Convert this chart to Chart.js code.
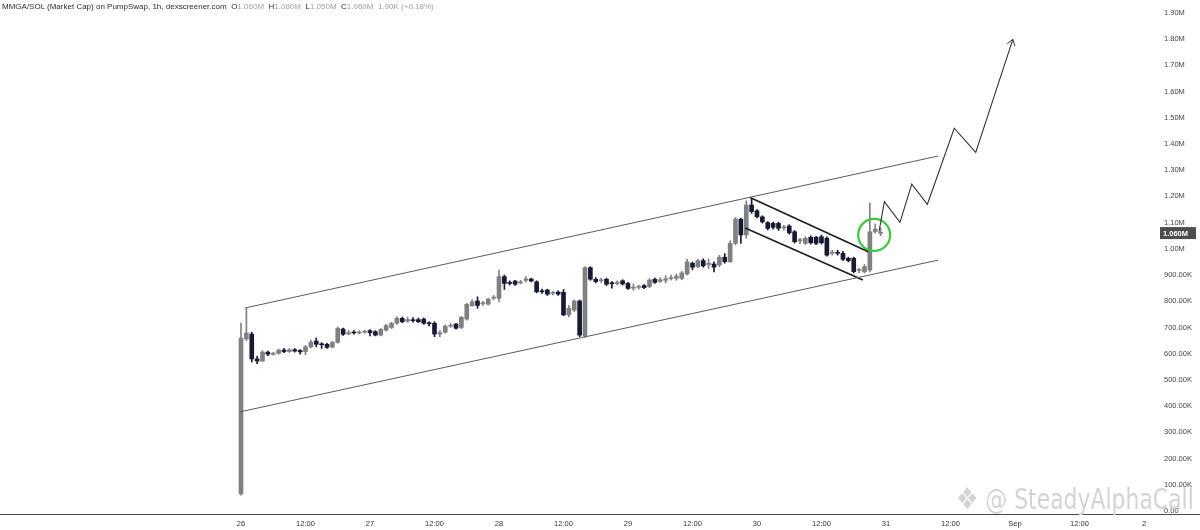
<!DOCTYPE html>
<html lang="en">
  <head>
    <meta charset="UTF-8" />
    <title>MMGA/SOL Market Cap</title>
    <script src="https://cdn.jsdelivr.net/npm/chart.js"></script>
    <style>
      body {
        margin: 0;
        background: #fff;
        font-family: "Liberation Sans", Arial, sans-serif;
      }
      #wrap {
        position: relative;
        width: 1200px;
        height: 530px;
        overflow: hidden;
      }
      canvas {
        display: block;
      }
      .header {
        position: absolute;
        left: 2px;
        top: 2px;
        font-size: 8px;
        color: #2e2e2e;
        white-space: nowrap;
      }
      .header .v {
        color: #a0a0a0;
      }
      .watermark {
        position: absolute;
        left: 956px;
        top: 481px;
        font-family: "Liberation Sans Narrow", "DejaVu Sans Condensed", "Liberation Sans", sans-serif;
        font-size: 29px;
        color: #d4d4d4;
        white-space: nowrap;
        pointer-events: none;
        transform: scaleX(0.84);
        transform-origin: left top;
      }
      .watermark .logo {
        font-family: "DejaVu Sans", sans-serif;
        font-size: 30px;
        margin-right: 8px;
      }
    </style>
  </head>
  <body>
    <div id="wrap">
      <canvas id="chart" width="1200" height="530"></canvas>
      <div class="header">
        MMGA/SOL (Market Cap) on PumpSwap, 1h, dexscreener.com&nbsp;
        O<span class="v">1.060M</span>&nbsp; H<span class="v">1.080M</span>&nbsp;
        L<span class="v">1.050M</span>&nbsp; C<span class="v">1.060M</span>&nbsp;
        <span class="v">1.90K (+0.18%)</span>
      </div>
      <div class="watermark"><span class="logo">❖</span>@ SteadyAlphaCall</div>
    </div>

    <script>
      // 1h candles from Aug 26 00:00, market cap in K
      const openK = [
        65, 656, 675, 580, 572, 606, 598, 601, 614, 608, 615, 612, 608, 626, 648, 636, 636, 625, 643, 694,
        676, 680, 679, 682, 688, 684, 671, 690, 700, 716, 735, 724, 728, 730, 732, 716, 716, 675, 682, 705,
        713, 700, 732, 783, 801, 790, 789, 812, 811, 894, 872, 877, 870, 880, 885, 874, 840, 843, 830, 835,
        834, 748, 766, 801, 667, 928, 884, 878, 884, 870, 868, 878, 868, 850, 853, 860, 856, 884, 876, 880,
        886, 888, 887, 904, 945, 932, 955, 940, 942, 938, 968, 951, 1021, 1113, 1053, 1167, 1145, 1122, 1100, 1097,
        1097, 1080, 1087, 1065, 1030, 1021, 1044, 1044, 1046, 1040, 983, 987, 983, 964, 964, 917, 913, 919, 1066, 1059,
      ];
      const highK = [
        717, 774, 682, 590, 612, 610, 606, 618, 620, 620, 620, 616, 632, 652, 660, 642, 640, 648, 702, 698,
        690, 688, 688, 690, 692, 688, 696, 712, 720, 742, 740, 740, 738, 736, 736, 722, 722, 688, 710, 716,
        716, 742, 792, 806, 817, 800, 812, 822, 919, 900, 878, 880, 880, 894, 888, 878, 846, 846, 838, 840,
        845, 784, 805, 805, 932, 932, 890, 888, 888, 875, 878, 882, 872, 866, 862, 864, 886, 888, 890, 898,
        900, 904, 914, 960, 950, 960, 962, 962, 950, 975, 982, 1030, 1120, 1116, 1183, 1190, 1150, 1126, 1104, 1102,
        1102, 1090, 1092, 1070, 1040, 1046, 1050, 1048, 1052, 1046, 995, 995, 990, 968, 968, 926, 940, 1174, 1095, 1080,
      ];
      const lowK = [
        60, 650, 568, 562, 570, 592, 594, 598, 604, 605, 606, 598, 596, 622, 626, 620, 620, 622, 640, 670,
        672, 674, 676, 678, 668, 668, 668, 686, 696, 712, 718, 720, 720, 718, 712, 706, 665, 664, 678, 700,
        694, 696, 728, 780, 773, 784, 785, 806, 798, 845, 862, 860, 866, 874, 874, 832, 830, 822, 824, 822,
        745, 740, 760, 665, 662, 880, 870, 872, 860, 850, 862, 862, 845, 842, 846, 848, 852, 868, 872, 870,
        880, 880, 882, 900, 920, 928, 930, 925, 912, 932, 945, 948, 1015, 1021, 1040, 1135, 1118, 1098, 1072, 1075,
        1070, 1070, 1056, 1022, 1020, 1016, 1018, 1016, 1018, 972, 976, 976, 955, 950, 908, 909, 908, 912, 1060, 1050,
      ];
      const closeK = [
        660, 679, 580, 572, 606, 598, 601, 614, 608, 615, 610, 607, 626, 644, 636, 634, 624, 643, 697, 674,
        680, 679, 682, 685, 680, 671, 693, 707, 716, 735, 722, 730, 726, 722, 716, 714, 675, 680, 705, 708,
        697, 739, 788, 798, 784, 794, 808, 815, 894, 868, 868, 865, 874, 885, 877, 836, 836, 827, 832, 827,
        748, 773, 801, 671, 928, 884, 875, 882, 865, 867, 872, 866, 849, 853, 856, 852, 881, 872, 882, 886,
        890, 896, 908, 950, 930, 955, 935, 945, 930, 968, 951, 1021, 1113, 1053, 1167, 1142, 1122, 1103, 1078, 1082,
        1078, 1084, 1061, 1027, 1035, 1040, 1023, 1021, 1023, 976, 987, 983, 960, 955, 913, 919, 932, 1065, 1075, 1060,
      ];

      // drawings, in (hour, K) units
      const upperChannel = [{ x: 0.7, y: 774 }, { x: 129.7, y: 1354 }];
      const lowerChannel = [{ x: -0.2, y: 378 }, { x: 129.7, y: 957 }];
      const flagUpper = [{ x: 94.7, y: 1196 }, { x: 116.7, y: 989 }];
      const flagLower = [{ x: 93.8, y: 1079 }, { x: 115.7, y: 881 }];
      const projection = [
        { x: 118.7, y: 1065 }, { x: 119.7, y: 1180 }, { x: 122.6, y: 1101 }, { x: 124.8, y: 1247 },
        { x: 127.7, y: 1170 }, { x: 132.7, y: 1460 }, { x: 136.7, y: 1368 }, { x: 143.6, y: 1799 },
      ];
      const circleCenter = [{ x: 117.8, y: 1053 }];

      const xTickHours = [0, 12, 24, 36, 48, 60, 72, 84, 96, 108, 120, 132, 144, 156, 168];
      const xTickLabels = ["26", "12:00", "27", "12:00", "28", "12:00", "29", "12:00", "30", "12:00", "31", "12:00", "Sep", "12:00", "2"];
      const yTickValues = [0, 100, 200, 300, 400, 500, 600, 700, 800, 900, 1000, 1100, 1200, 1300, 1400, 1500, 1600, 1700, 1800, 1900];
      const yTickLabels = ["0.00", "100.00K", "200.00K", "300.00K", "400.00K", "500.00K", "600.00K", "700.00K", "800.00K", "900.00K",
        "1.00M", "1.10M", "1.20M", "1.30M", "1.40M", "1.50M", "1.60M", "1.70M", "1.80M", "1.90M"];
      const lastPriceLabel = "1.060M";

      const UP = "#808080";
      const DOWN = "#161b33";
      const hours = openK.map((_, i) => i);
      const candleColor = (i) => (closeK[i] >= openK[i] ? UP : DOWN);

      const extras = {
        id: "extras",
        afterDatasetsDraw(chart) {
          const { ctx } = chart;
          // arrow head on projection
          const pts = chart.getDatasetMeta(4).data;
          const p1 = pts[pts.length - 1];
          const p0 = pts[pts.length - 2];
          const a = Math.atan2(p1.y - p0.y, p1.x - p0.x);
          ctx.save();
          ctx.strokeStyle = "#333";
          ctx.lineWidth = 1;
          ctx.beginPath();
          [a + Math.PI - 0.6, a + Math.PI + 0.6].forEach((b) => {
            ctx.moveTo(p1.x, p1.y);
            ctx.lineTo(p1.x + 7 * Math.cos(b), p1.y + 7 * Math.sin(b));
          });
          ctx.stroke();
          ctx.restore();
        },
        afterDraw(chart) {
          const { ctx, chartArea, scales } = chart;
          ctx.save();
          // time axis border across the full width
          ctx.strokeStyle = "#4a4a4a";
          ctx.lineWidth = 1;
          ctx.beginPath();
          ctx.moveTo(0, Math.round(chartArea.bottom) + 0.5);
          ctx.lineTo(chart.width, Math.round(chartArea.bottom) + 0.5);
          ctx.stroke();
          // last price tag
          const y = scales.y.getPixelForValue(closeK[closeK.length - 1]);
          ctx.fillStyle = "#4d4d4d";
          ctx.fillRect(chartArea.right, y - 6, 36, 12);
          ctx.fillStyle = "#fff";
          ctx.font = "bold 7.5px 'Liberation Sans', Arial, sans-serif";
          ctx.textBaseline = "middle";
          ctx.fillText(lastPriceLabel, chartArea.right + 3, y + 0.5);
          ctx.restore();
        },
      };

      new Chart(document.getElementById("chart"), {
        type: "bar",
        data: {
          datasets: [
            { type: "line", data: upperChannel, borderColor: "#5a5a5a", borderWidth: 1, pointRadius: 0 },
            { type: "line", data: lowerChannel, borderColor: "#5a5a5a", borderWidth: 1, pointRadius: 0 },
            { type: "line", data: flagUpper, borderColor: "#1e1e1e", borderWidth: 1.6, pointRadius: 0 },
            { type: "line", data: flagLower, borderColor: "#1e1e1e", borderWidth: 1.6, pointRadius: 0 },
            { type: "line", data: projection, borderColor: "#333", borderWidth: 1.1, pointRadius: 0 },
            {
              type: "line",
              data: circleCenter,
              showLine: false,
              pointRadius: 16,
              pointBorderWidth: 2.2,
              pointBorderColor: "#3cc83c",
              pointBackgroundColor: "rgba(0,0,0,0)",
            },
            {
              data: hours.map((h, i) => ({ x: h, y: [openK[i], closeK[i]] })),
              backgroundColor: (c) => candleColor(c.dataIndex),
              barThickness: 4,
              minBarLength: 1,
              grouped: false,
            },
            {
              data: hours.map((h, i) => ({ x: h, y: [lowK[i], highK[i]] })),
              backgroundColor: (c) => candleColor(c.dataIndex),
              barThickness: 1,
              grouped: false,
            },
          ],
        },
        plugins: [extras],
        options: {
          responsive: false,
          animation: false,
          layout: { padding: 0, autoPadding: false },
          plugins: { legend: { display: false }, tooltip: { enabled: false } },
          scales: {
            x: {
              type: "linear",
              offset: false,
              min: -44.84,
              max: 170.98,
              grid: { display: false, drawTicks: false, offset: false },
              border: { display: false },
              afterBuildTicks: (s) => {
                s.ticks = xTickHours.map((v) => ({ value: v }));
              },
              afterFit: (s) => {
                s.height = 16;
                s.paddingLeft = 0;
                s.paddingRight = 0;
              },
              ticks: {
                autoSkip: false,
                maxRotation: 0,
                padding: 5,
                color: "#333",
                font: { size: 7.5, family: "'Liberation Sans', Arial, sans-serif" },
                callback: (v) => xTickLabels[xTickHours.indexOf(v)],
              },
            },
            y: {
              position: "right",
              min: -11.4,
              max: 1949,
              grid: { display: false, drawTicks: false },
              border: { display: false },
              afterBuildTicks: (s) => {
                s.ticks = yTickValues.map((v) => ({ value: v }));
              },
              afterFit: (s) => {
                s.width = 40;
                s.paddingTop = 0;
                s.paddingBottom = 0;
              },
              ticks: {
                padding: 4,
                crossAlign: "near",
                color: "#454545",
                font: { size: 7.5, family: "'Liberation Sans', Arial, sans-serif" },
                callback: (v) => yTickLabels[yTickValues.indexOf(v)],
              },
            },
          },
        },
      });
    </script>
  </body>
</html>
